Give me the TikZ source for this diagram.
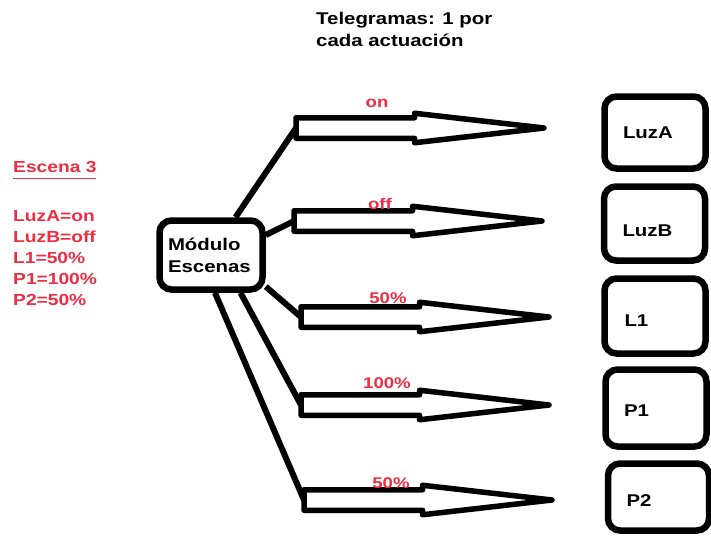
\documentclass[tikz,border=0pt]{standalone}
\usepackage{fontspec}
\setmainfont{Liberation Sans}[FakeStretch=1.2]
\usepackage{tikz}
\usetikzlibrary{shapes.arrows}
\definecolor{valred}{RGB}{238,44,66}
\tikzstyle{modbox} = [draw, line width=6.5pt, rounded corners=12pt,
    font=\fontsize{17}{22}\selectfont\bfseries, align=left]
\tikzstyle{devbox} = [draw, line width=6.5pt, rounded corners=12pt,
    minimum width=101pt, text width=64pt, inner xsep=18pt,
    font=\fontsize{17}{21}\selectfont\bfseries, align=left]
\tikzstyle{telearrow} = [single arrow, draw, line width=5.5pt, line join=round,
    inner xsep=0pt, inner ysep=7.5pt, outer sep=0pt, minimum height=248pt,
    single arrow head extend=4.5pt, single arrow tip angle=13, anchor=tail]
\tikzstyle{wire} = [line width=6pt]
\tikzstyle{val} = [text=valred, font=\fontsize{15.5}{18}\selectfont\bfseries]

\begin{document}
\begin{tikzpicture}[x=1pt, y=-1pt]
    \useasboundingbox (0,0) rectangle (711,535);
    \node[anchor=north west, align=left, inner sep=0pt,
        font=\fontsize{17}{22}\selectfont\bfseries] (tele) at (316,12) {Telegramas: 1 por\\cada actuación};
    \node[val, anchor=west, inner sep=0pt, font=\fontsize{16}{21}\selectfont\bfseries] (esc) at (13,170) {\underline{Escena 3\rule[-4pt]{0pt}{1pt}}};
    \node[val, anchor=north west, align=left, inner sep=0pt,
        font=\fontsize{16}{21}\selectfont\bfseries] (lista) at (13,210) {LuzA=on\\LuzB=off\\L1=50\%\\P1=100\%\\P2=50\%};
    \node[modbox, minimum width=103pt, minimum height=69pt, text width=86pt,
        inner xsep=8.5pt] (mod) at (211,255) {Módulo\\Escenas};
    \node[devbox, minimum height=72pt] (luza) at (655,132.5) {LuzA};
    \node[devbox, minimum height=74pt] (luzb) at (654.5,223.5) {\raisebox{-12.5pt}[0pt][0pt]{LuzB}};
    \node[devbox, minimum height=75pt, inner xsep=20pt, text width=61pt] (l1) at (655,316) {\raisebox{-10pt}[0pt][0pt]{L1}};
    \node[devbox, minimum height=77pt] (p1) at (656,408) {\raisebox{-8pt}[0pt][0pt]{P1}};
    \node[devbox, minimum height=67pt] (p2) at (658.5,497) {\raisebox{-9pt}[0pt][0pt]{P2}};
    \node[telearrow] (a1) at (296,128) {};
    \node[telearrow] (a2) at (294,221) {};
    \node[telearrow] (a3) at (301,317) {};
    \node[telearrow] (a4) at (301,405) {};
    \node[telearrow] (a5) at (304,500) {};
    \node[val] (v1) at (377,103) {on};
    \node[val] (v2) at (380,204) {off};
    \node[val] (v3) at (388,298) {50\%};
    \node[val] (v4) at (387,383) {100\%};
    \node[val] (v5) at (391,483) {50\%};
    \draw[wire] (mod.57) to (a1.tail);
    \draw[wire] (mod.20) to (a2.tail);
    \draw[wire] (mod.-30) to (a3.tail);
    \draw[wire] (mod.-52) to (a4.tail);
    \draw[wire] (mod.-84) to (a5.tail);
\end{tikzpicture}
\end{document}
